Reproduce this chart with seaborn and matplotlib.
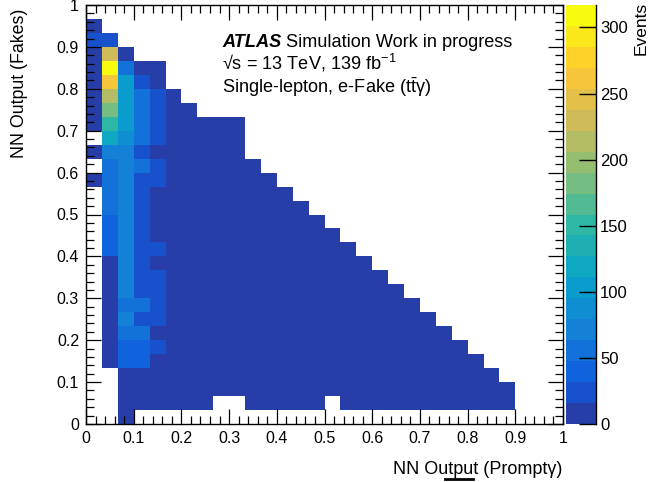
import numpy as np
import pandas as pd
import matplotlib
matplotlib.use("Agg")
import matplotlib.pyplot as plt
from matplotlib.colors import ListedColormap, LinearSegmentedColormap
from matplotlib.ticker import MultipleLocator
from matplotlib.lines import Line2D
import seaborn as sns

# ---------------- data ----------------
N_BINS = 30            # 30 x 30 bins on [0,1] x [0,1]
Z_MAX = 317            # top of the colour scale
N_LEVELS = 20          # discrete colour bands
BULK = 6               # typical content of the dark-blue bins

# first / last filled column for each row (row 0 = bottom, 0..28)
FIRST_COL = [2, 2, 2, 2, 1, 1, 1, 1, 1, 1, 1, 1, 1, 1, 1, 1, 1, 0, 1, 0,
             1, 0, 0, 0, 0, 0, 0, 0, 0]
LAST_COL = [2, 26, 26, 25, 24, 23, 22, 21, 20, 19, 18, 17, 16, 15, 14, 13,
            12, 11, 10, 9, 9, 9, 6, 5, 4, 4, 2, 1, 0]

# contents of the left-most columns (col 0..4), None = empty bin
LEFT_VALUES = {
    28: [5],
    27: [25, 25],
    26: [6, 230, 8],
    25: [6, 312, 62, 6, 6],
    24: [6, 262, 105, 30, 6],
    23: [6, 214, 110, 48, 25],
    22: [6, 182, 110, 48, 25],
    21: [6, 150, 105, 48, 25],
    20: [None, 118, 90, 48, 25],
    19: [6, 78, 78, 25, 6],
    18: [None, 55, 72, 48, 25],
    17: [6, 55, 72, 25, 22],
    16: [None, 50, 72, 25, 6],
    15: [None, 50, 72, 25, 6],
    14: [None, 40, 72, 25, 6],
    13: [None, 40, 72, 25, 6],
    12: [None, 40, 72, 25, 25],
    11: [None, 8, 72, 25, 6],
    10: [None, 8, 72, 25, 25],
    9: [None, 8, 72, 25, 25],
    8: [None, 8, 55, 55, 25],
    7: [None, 8, 75, 25, 25],
    6: [None, 8, 55, 50, 6],
    5: [None, 8, 38, 38, 30],
    4: [None, 8, 38, 38, 6],
    3: [None, None, 8, 6, 6],
    2: [None, None, 8, 6, 6],
    1: [None, None, 8, 6, 6],
    0: [None, None, 8],
}
HOLES = [(1, 8), (1, 9), (1, 15)]   # (row, col) empty bins in the bottom rows

X_TICKS = [0, 0.1, 0.2, 0.3, 0.4, 0.5, 0.6, 0.7, 0.8, 0.9, 1]
Y_TICKS = X_TICKS
Z_TICKS = [0, 50, 100, 150, 200, 250, 300]

# ---------------- build the long-form table ----------------
w = 1.0 / N_BINS
rows = []
for r in range(len(FIRST_COL)):
    left = LEFT_VALUES.get(r, [])
    for c in range(FIRST_COL[r], LAST_COL[r] + 1):
        if (r, c) in HOLES:
            continue
        if c < len(left):
            v = left[c]
        else:
            v = BULK
        if v is None:
            continue
        rows.append(((c + 0.5) * w, (r + 0.5) * w, v))
df = pd.DataFrame(rows, columns=["x", "y", "w"])

# ---------------- ROOT kBird palette, 20 bands ----------------
stops = [0, 0.125, 0.25, 0.375, 0.5, 0.625, 0.75, 0.875, 1]
red = [0.2082, 0.0592, 0.0780, 0.0232, 0.1802, 0.5301, 0.8186, 0.9956, 0.9764]
green = [0.1664, 0.3599, 0.5041, 0.6419, 0.7178, 0.7492, 0.7328, 0.7862, 0.9832]
blue = [0.5293, 0.8684, 0.8385, 0.7914, 0.6425, 0.4662, 0.3499, 0.1968, 0.0539]
bird = LinearSegmentedColormap.from_list(
    "bird", list(zip(stops, zip(red, green, blue))))
cmap = ListedColormap([bird((i + 0.99) / N_LEVELS) for i in range(N_LEVELS)])

# ---------------- figure ----------------
plt.rcParams["font.family"] = ["Liberation Sans", "DejaVu Sans"]
plt.rcParams["mathtext.fontset"] = "custom"
plt.rcParams["mathtext.rm"] = "Liberation Sans"
plt.rcParams["mathtext.it"] = "Liberation Sans:italic"
plt.rcParams["mathtext.bf"] = "Liberation Sans:bold"

W, H = 649, 482
fig = plt.figure(figsize=(W / 100, H / 100), dpi=100)
fig.patch.set_facecolor("white")
ax = fig.add_axes([86 / W, 58 / H, 477 / W, 419 / H])
cax = fig.add_axes([566 / W, 58 / H, 30 / W, 419 / H])

sns.histplot(data=df, x="x", y="y", weights="w", bins=N_BINS,
             binrange=((0, 1), (0, 1)), cmap=cmap, vmin=0, vmax=Z_MAX,
             cbar=True, cbar_ax=cax, ax=ax)

ax.set_xlim(0, 1)
ax.set_ylim(0, 1)
ax.set_xlabel("")
ax.set_ylabel("")
ax.set_xticks(X_TICKS)
ax.set_yticks(Y_TICKS)
ax.set_xticklabels([f"{t:g}" for t in X_TICKS])
ax.set_yticklabels([f"{t:g}" for t in Y_TICKS])
ax.xaxis.set_minor_locator(MultipleLocator(0.02))
ax.yaxis.set_minor_locator(MultipleLocator(0.02))
ax.tick_params(which="both", direction="in", top=True, right=True,
               color="black", width=0.9)
ax.tick_params(which="major", length=11, labelsize=11.5, pad=5)
ax.tick_params(which="minor", length=5.5)
for s in ax.spines.values():
    s.set_color("black")
    s.set_linewidth(1.0)

# colour bar styling
cb = ax.collections[0].colorbar
cb.outline.set_visible(False)
cax.yaxis.set_ticks_position("right")
cax.set_yticks(Z_TICKS)
cax.tick_params(direction="in", length=12, width=1, color="black",
                labelsize=12, pad=3)
cax.minorticks_off()
cax.axvline(1, color="black", lw=1, clip_on=False)

# axis titles (ROOT style, right aligned)
fig.text(20 / W, 1 - 9 / H, "NN Output (Fakes)", rotation=90,
         ha="center", va="top", fontsize=12.8)
fig.text(562 / W, 1 - 470 / H, "NN Output (Promptγ)", ha="right",
         va="center", fontsize=13)
fig.text(641 / W, 1 - 2 / H, "Events", rotation=90, ha="center", va="top",
         fontsize=12.5)
fig.add_artist(Line2D([445 / W, 473 / W], [1 - 479 / H, 1 - 479 / H],
                      color="black", lw=2))

# ATLAS label
FS = 13.1
tx, ty = 222 / W, 1 - 47 / H
t1 = fig.text(tx, ty, "ATLAS", fontsize=FS, fontweight="bold",
              fontstyle="italic", va="baseline")
fig.canvas.draw()
bb = t1.get_window_extent(renderer=fig.canvas.get_renderer())
fig.text(bb.x1 / W + 5 / W, ty, "Simulation Work in progress",
         fontsize=FS, va="baseline")
fig.text(tx, 1 - 70 / H, "√s = 13 TeV, 139 fb$^{-1}$", fontsize=FS,
         va="baseline")
fig.text(tx, 1 - 93 / H, r"Single-lepton, e-Fake (t$\bar{\mathrm{t}}$γ)",
         fontsize=FS, va="baseline")

fig.savefig("out.png", dpi=100, facecolor="white")
